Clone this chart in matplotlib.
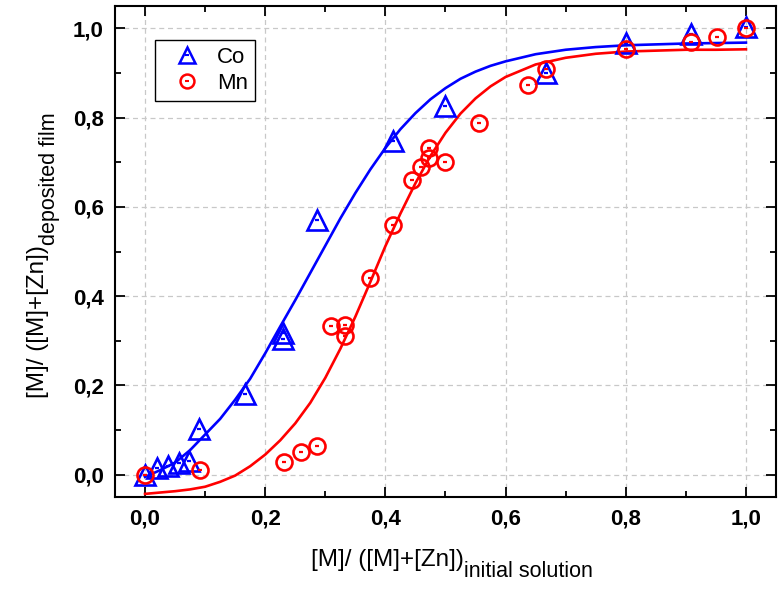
import matplotlib
matplotlib.use('Agg')
import matplotlib.pyplot as plt
from matplotlib.lines import Line2D

# measured points
co_x = [0.0, 0.02, 0.038, 0.056, 0.073, 0.09, 0.167, 0.23, 0.23, 0.286,
        0.412, 0.5, 0.667, 0.8, 0.909, 1.0]
co_y = [0.0, 0.015, 0.019, 0.027, 0.03, 0.103, 0.181, 0.318, 0.303, 0.571,
        0.747, 0.827, 0.899, 0.968, 0.988, 1.003]

mn_x = [0.0, 0.091, 0.231, 0.259, 0.286, 0.309, 0.333, 0.333, 0.375, 0.412,
        0.444, 0.459, 0.473, 0.473, 0.5, 0.555, 0.637, 0.667, 0.8, 0.909,
        0.952, 1.0]
mn_y = [0.0, 0.01, 0.028, 0.05, 0.064, 0.333, 0.335, 0.31, 0.441, 0.56,
        0.661, 0.689, 0.709, 0.732, 0.70, 0.787, 0.873, 0.909, 0.953, 0.970,
        0.98, 1.0]

# fitted curves
fit_x = [0.0, 0.025, 0.05, 0.075, 0.10, 0.125, 0.15, 0.175, 0.20, 0.225,
         0.25, 0.275, 0.30, 0.325, 0.35, 0.375, 0.40, 0.425, 0.45, 0.475,
         0.50, 0.525, 0.55, 0.575, 0.60, 0.65, 0.70, 0.75, 0.80, 0.85,
         0.90, 0.95, 1.0]
co_fit = [-0.005, 0.010, 0.027, 0.055, 0.090, 0.125, 0.168, 0.215, 0.272,
          0.332, 0.391, 0.452, 0.513, 0.574, 0.631, 0.684, 0.732, 0.774,
          0.810, 0.841, 0.866, 0.887, 0.903, 0.916, 0.926, 0.942, 0.952,
          0.958, 0.962, 0.964, 0.966, 0.967, 0.968]
mn_fit = [-0.043, -0.040, -0.037, -0.033, -0.027, -0.016, -0.002, 0.019,
          0.045, 0.077, 0.115, 0.161, 0.217, 0.282, 0.354, 0.432, 0.512,
          0.585, 0.653, 0.714, 0.766, 0.809, 0.843, 0.870, 0.891, 0.919,
          0.934, 0.943, 0.948, 0.950, 0.952, 0.952, 0.953]

ticks = [0.0, 0.2, 0.4, 0.6, 0.8, 1.0]
tick_labels = ['0,0', '0,2', '0,4', '0,6', '0,8', '1,0']

BLUE = '#0000ff'
RED = '#ff0000'
FONT = 'Liberation Sans'

fig = plt.figure(figsize=(7.78, 5.89), dpi=100)
ax = fig.add_axes([0.1478, 0.1562, 0.8496, 0.8336])

ax.plot(fit_x, co_fit, color=BLUE, lw=1.9, zorder=2)
ax.plot(fit_x, mn_fit, color=RED, lw=1.9, zorder=2)

ax.plot(co_x, co_y, ls='none', marker='^', ms=14, mfc='none', mec=BLUE,
        mew=1.9, zorder=3)
ax.plot(co_x, co_y, ls='none', marker='_', ms=3, mec=BLUE, mew=1.6, zorder=3)
ax.plot(mn_x, mn_y, ls='none', marker='o', ms=11.5, mfc='none', mec=RED,
        mew=1.9, zorder=4)
ax.plot(mn_x, mn_y, ls='none', marker='_', ms=3, mec=RED, mew=1.6, zorder=4)

ax.set_xlim(-0.05, 1.05)
ax.set_ylim(-0.05, 1.05)
ax.set_xticks(ticks)
ax.set_yticks(ticks)
ax.set_xticklabels(tick_labels, fontsize=16, fontweight='bold', family=FONT)
ax.set_yticklabels(tick_labels, fontsize=16, fontweight='bold', family=FONT)
ax.set_xticks([0.1, 0.3, 0.5, 0.7, 0.9], minor=True)
ax.set_yticks([0.1, 0.3, 0.5, 0.7, 0.9], minor=True)
ax.tick_params(which='both', direction='in', top=True, right=True, width=1.3)
ax.tick_params(which='major', length=7, pad=8)
ax.tick_params(which='minor', length=4)
for s in ax.spines.values():
    s.set_linewidth(1.5)
ax.grid(True, ls=(0, (4, 3)), color='#c8c8c8', lw=0.9)
ax.set_axisbelow(True)

# axis labels: main part + large subscript, as in the original
xl = fig.text(311 / 778, 1 - 566 / 589, '[M]/ ([M]+[Zn])', fontsize=17.5,
              family=FONT, ha='left', va='baseline')
ax.annotate('initial solution', xy=(1, 0), xycoords=xl, xytext=(0, -4),
            textcoords='offset points', fontsize=15.5, family=FONT,
            ha='left', va='baseline', annotation_clip=False)

yl = fig.text(44 / 778, 1 - 398 / 589, '[M]/ ([M]+[Zn])', fontsize=17.5,
              family=FONT, rotation=90, rotation_mode='anchor',
              ha='left', va='baseline')
ax.annotate('deposited film', xy=(1, 1), xycoords=yl, xytext=(4, 0),
            textcoords='offset points', fontsize=15.5, family=FONT,
            rotation=90, rotation_mode='anchor',
            ha='left', va='baseline', annotation_clip=False)

handles = [
    (Line2D([], [], ls='none', marker='^', ms=12, mfc='none', mec=BLUE, mew=1.8),
     Line2D([], [], ls='none', marker='_', ms=3, mec=BLUE, mew=1.5)),
    (Line2D([], [], ls='none', marker='o', ms=10, mfc='none', mec=RED, mew=1.8),
     Line2D([], [], ls='none', marker='_', ms=3, mec=RED, mew=1.5)),
]
leg = ax.legend(handles, ['Co', 'Mn'], loc='upper left',
                bbox_to_anchor=(0.06, 0.931), borderaxespad=0,
                prop={'family': FONT, 'size': 16},
                fancybox=False, edgecolor='black', framealpha=1,
                handletextpad=0.2, labelspacing=0.25, borderpad=0.3,
                handlelength=2.3)
leg.get_frame().set_linewidth(1.0)

fig.savefig('out.png', dpi=100)
